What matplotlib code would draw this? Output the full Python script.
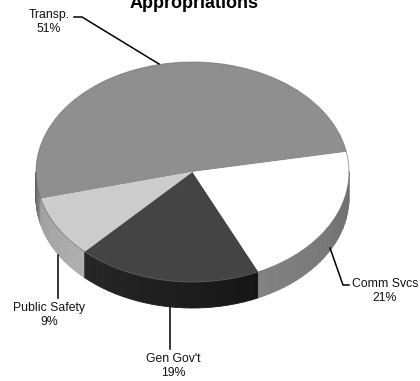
import numpy as np
from matplotlib import pyplot as plt
from matplotlib.colors import to_rgb

plt.rcParams['font.family'] = ['Liberation Sans', 'DejaVu Sans']

labels = ['Transp.', 'Public Safety', "Gen Gov't", 'Comm Svcs']
values = [51, 9, 19, 21]
top_colors = ['#8f8f8f', '#cccccc', '#444444', '#ffffff']
side_left = ['#555555', '#a0a0a0', '#262626', '#828282']
side_right = ['#8a8a8a', '#b0b0b0', '#161616', '#6e6e6e']
title = 'Appropriations'

W, H = 420, 381
CX, CY, RX, RY = 192.5, 172, 156.5, 110
DEPTH = 26 / RY
START = 10.5


def px(x, y):
    return (x - CX) / RX, (CY - y) / RY


fig = plt.figure(figsize=(W / 100, H / 100), dpi=100)
ax = fig.add_axes([0, 0, 1, 1])

# side wall first, in small facets so the shading can change along the arc
edges = START + np.cumsum([0] + values) * 3.6
for i in range(len(values)):
    a0 = max(edges[i], 180)
    a1 = min(edges[i + 1], 360)
    if a1 <= a0:
        continue
    steps = np.linspace(a0, a1, 25)
    c0 = np.array(to_rgb(side_left[i]))
    c1 = np.array(to_rgb(side_right[i]))
    for j in range(len(steps) - 1):
        t = np.radians(np.linspace(steps[j], steps[j + 1], 4))
        xs = np.concatenate([np.cos(t), np.cos(t[::-1])])
        ys = np.concatenate([np.sin(t), np.sin(t[::-1]) - DEPTH])
        c = c0 + (c1 - c0) * j / 23
        ax.fill(xs, ys, facecolor=c, edgecolor=c, lw=0.6)

wedges, _ = ax.pie(values, colors=top_colors, startangle=START, counterclock=True,
                   radius=1, wedgeprops={'linewidth': 0})
t = np.radians(np.linspace(0, 360, 361))
ax.plot(np.cos(t), np.sin(t), color='#666666', lw=0.7, alpha=0.6)

# leaders
for xs, ys in [((74, 82, 159), (17, 17, 64)),
               ((330, 343, 349), (248, 285, 285)),
               ((58, 58), (255, 298)),
               ((170, 170), (307, 349))]:
    p = [px(a, b) for a, b in zip(xs, ys)]
    ax.plot([q[0] for q in p], [q[1] for q in p], color='black', lw=1.1)

label_pos = [(49, 22), (49, 315), (173, 366), (385, 291)]
for name, v, (x, y) in zip(labels, values, label_pos):
    ax.text(*px(x, y), f'{name}\n{v}%', ha='center', va='center', fontsize=8.8,
            linespacing=1.25, color='#111111')

ax.text(*px(194, 8), title, ha='center', va='baseline', fontsize=13, fontweight='bold')

ax.set_aspect('auto')
ax.set_xlim(px(0, 0)[0], px(W, 0)[0])
ax.set_ylim(px(0, H)[1], px(0, 0)[1])
ax.axis('off')

fig.savefig('out.png', dpi=100)
